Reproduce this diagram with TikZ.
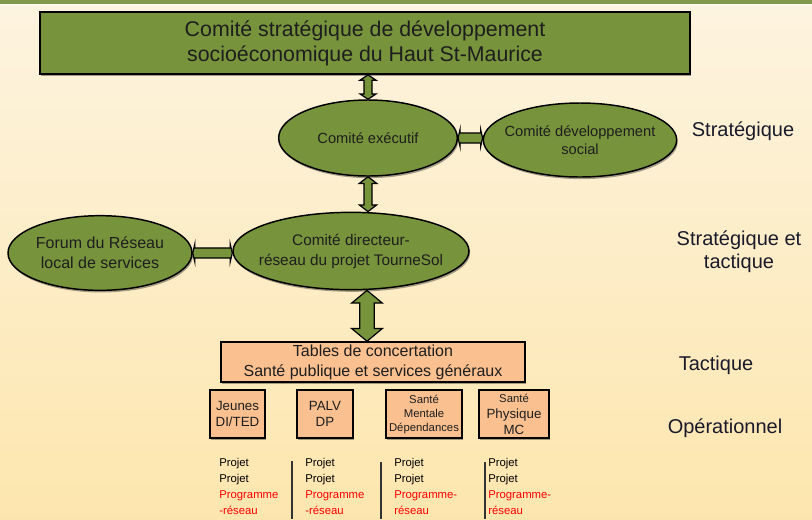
\documentclass[tikz,border=0pt]{standalone}
\usepackage{fontspec}
\setmainfont{Liberation Sans}
\usetikzlibrary{shapes.geometric,calc,shadows}
\definecolor{olivefill}{HTML}{77933C}
\definecolor{orangefill}{HTML}{FAC08F}
\definecolor{bgtop}{HTML}{FDF4E0}
\definecolor{bgbot}{HTML}{FDE6AE}
\definecolor{band}{HTML}{7F9A48}
\definecolor{txt}{HTML}{1E1E1E}
\definecolor{lbl}{HTML}{1A1A2A}
\newcommand\vdarrow[5]{% #1 top point, #2 bottom point, #3 half shaft, #4 half head, #5 head length
  \draw[conn] let \p1=#1, \p2=#2 in
    (\x1,\y1) -- (\x1-#4,\y1-#5) -- (\x1-#3,\y1-#5) -- (\x1-#3,\y2+#5) -- (\x1-#4,\y2+#5)
    -- (\x1,\y2) -- (\x1+#4,\y2+#5) -- (\x1+#3,\y2+#5) -- (\x1+#3,\y1-#5) -- (\x1+#4,\y1-#5) -- cycle;}
\newcommand\hdarrow[5]{% #1 left point, #2 right point
  \draw[conn] let \p1=#1, \p2=#2 in
    (\x1,\y1) -- (\x1+#5,\y1+#4) -- (\x1+#5,\y1+#3) -- (\x2-#5,\y1+#3) -- (\x2-#5,\y1+#4)
    -- (\x2,\y1) -- (\x2-#5,\y1-#4) -- (\x2-#5,\y1-#3) -- (\x1+#5,\y1-#3) -- (\x1+#5,\y1-#4) -- cycle;}
\begin{document}
\begin{tikzpicture}[x=0.75pt,y=-0.75pt,
  shad/.style={drop shadow={shadow xshift=0.8pt,shadow yshift=-1.6pt,opacity=0.35,fill=black}},
  ell/.style={ellipse,draw=black,line width=1.1pt,fill=olivefill,inner sep=0pt,shad},
  etext/.style={align=center,text=txt,inner sep=0pt},
  gbox/.style={rectangle,draw=black,line width=1.3pt,fill=olivefill,inner sep=0pt,align=center,text=txt,shad},
  obox/.style={rectangle,draw=black,line width=1.2pt,fill=orangefill,inner sep=0pt,align=center,text=txt,shad},
  conn/.style={draw=black,line width=0.9pt,fill=olivefill,line join=miter},
  lvl/.style={text=lbl,align=center,font=\fontsize{15}{17}\selectfont},
  plist/.style={anchor=north west,align=left,inner sep=0pt,font=\fontsize{8.5}{12}\selectfont},
  sep/.style={draw=black!80,line width=1.2pt}]
\useasboundingbox (0,0) rectangle (812,519);
\shade[top color=bgtop,bottom color=bgbot] (0,0) rectangle (812,519);
\fill[band] (0,0) rectangle (812,4);
\fill[white,opacity=0.6] (0,4) rectangle (812,6);

% nodes
\node[gbox,minimum width=487.5pt,minimum height=46.5pt,font=\fontsize{16}{18.75}\selectfont]
  (top) at (365,43) {Comité stratégique de développement\\socioéconomique du Haut St-Maurice};
\node[ell,minimum width=134pt,minimum height=57pt] (exec) at (368,138) {};
\node[etext,font=\fontsize{11}{13.5}\selectfont] (execT) at (exec) {Comité exécutif};
\node[ell,minimum width=145pt,minimum height=55.5pt] (dev) at (580,140) {};
\node[etext,font=\fontsize{11}{13.5}\selectfont] (devT) at (dev) {Comité développement\\social};
\node[ell,minimum width=177pt,minimum height=58pt] (dir) at (351,251) {};
\node[etext,font=\fontsize{11.5}{15}\selectfont] (dirT) at (dir) {Comité directeur-\\réseau du projet TourneSol};
\node[ell,minimum width=138pt,minimum height=56pt] (forum) at (100,253) {};
\node[etext,font=\fontsize{12}{15}\selectfont] (forumT) at (forum) {Forum du Réseau\\local de services};
\node[obox,minimum width=228pt,minimum height=30pt,font=\fontsize{12}{15}\selectfont]
  (tables) at (373,362) {Tables de concertation\\Santé publique et services généraux};
\node[obox,minimum width=41pt,minimum height=36pt,font=\fontsize{10}{12}\selectfont]
  (jeunes) at (237.5,414) {Jeunes\\DI/TED};
\node[obox,minimum width=42pt,minimum height=36pt,font=\fontsize{10}{12}\selectfont]
  (palv) at (325,414) {PALV\\DP};
\node[obox,minimum width=57pt,minimum height=36pt,font=\fontsize{8.5}{10.5}\selectfont]
  (mentale) at (424,414) {Santé\\Mentale\\Dépendances};
\node[obox,minimum width=52.5pt,minimum height=36pt,font=\fontsize{10}{12}\selectfont]
  (physique) at (514,414) {{\fontsize{8.5}{10}\selectfont Santé}\\Physique\\MC};

% connectors
\vdarrow{(top.south -| exec.north)}{(exec.north)}{3pt}{6pt}{4pt}
\vdarrow{(exec.south)}{(dir.north -| exec.south)}{3pt}{6.5pt}{5pt}
\vdarrow{($(dir.south -| tables.north)+(-6,0)$)}{($(tables.north)+(-6,0)$)}{5.5pt}{11.5pt}{9.5pt}
\hdarrow{(exec.east)}{(dev.west |- exec.east)}{3.8pt}{6.5pt}{1.5pt}
\hdarrow{(forum.east)}{(dir.west |- forum.east)}{3.8pt}{6.5pt}{1.5pt}

% level labels
\node[lvl] (l1) at (743,131) {Stratégique};
\node[lvl] (l2) at (739,252) {Stratégique et\\tactique};
\node[lvl] (l3) at (716,365) {Tactique};
\node[lvl] (l4) at (725,428) {Opérationnel};

% bottom lists
\node[plist] (p1) at (219,458) {Projet\\Projet\\\textcolor{red}{Programme}\\\textcolor{red}{-réseau}};
\node[plist] (p2) at (305,458) {Projet\\Projet\\\textcolor{red}{Programme}\\\textcolor{red}{-réseau}};
\node[plist] (p3) at (394,458) {Projet\\Projet\\\textcolor{red}{Programme-}\\\textcolor{red}{réseau}};
\node[plist] (p4) at (488,458) {Projet\\Projet\\\textcolor{red}{Programme-}\\\textcolor{red}{réseau}};
\coordinate (s1a) at (292,461); \coordinate (s1b) at (292,519);
\coordinate (s2a) at (381,462); \coordinate (s2b) at (381,519);
\coordinate (s3a) at (485,462); \coordinate (s3b) at (485,519);
\draw[sep] (s1a) -- (s1b);
\draw[sep] (s2a) -- (s2b);
\draw[sep] (s3a) -- (s3b);
\end{tikzpicture}
\end{document}
